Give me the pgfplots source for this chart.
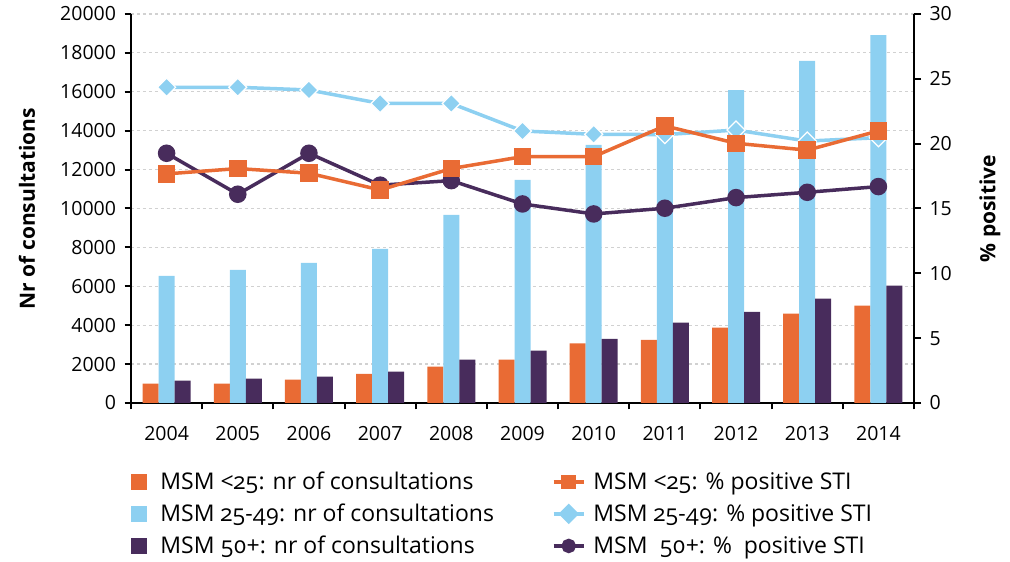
\documentclass[border=0pt]{standalone}
\usepackage{fontspec}
\setmainfont{Open Sans}
\newfontfamily\legfont[Numbers=OldStyle]{Open Sans}
\usepackage{pgfplots}
\pgfplotsset{compat=1.18}
\definecolor{cor}{HTML}{E96B34}
\definecolor{cbl}{HTML}{8DD0F1}
\definecolor{cpu}{HTML}{482C5C}
\pgfplotsset{
  lineleg/.style={legend image code/.code={\draw[mark repeat=2,mark phase=2,##1] plot coordinates {(0pt,0pt) (15pt,0pt) (30pt,0pt)};}},
  barleg/.style={legend image code/.code={\fill[#1] (0pt,-7.5pt) rectangle (15pt,7.5pt); \path[draw=none,fill=none] (0pt,-0.1pt) rectangle (21pt,0.1pt);}},
}
\begin{document}
\begin{tikzpicture}
\begin{axis}[name=ax1, scale only axis, width=783pt, height=389pt,
  xmin=-0.5, xmax=10.5, ymin=0, ymax=20000,
  axis x line*=bottom, axis y line*=left,
  ybar=0pt, bar width=16pt,
  xtick={-0.5,0.5,...,10.5}, xticklabels={},
  extra x ticks={0,1,2,3,4,5,6,7,8,9,10},
  extra x tick labels={2004,2005,2006,2007,2008,2009,2010,2011,2012,2013,2014},
  extra x tick style={major tick length=0pt, xticklabel style={yshift=-20pt}},
  ytick={0,2000,...,20000},
  ymajorgrids, grid style={dash pattern=on 3pt off 3pt, black!18, line width=1.2pt},
  tick align=outside, major tick length=6.5pt,
  axis line style={line width=2pt}, tick style={line width=2pt, black},
  scaled y ticks=false,
  /pgf/number format/assume math mode=true,
  yticklabel style={/pgf/number format/1000 sep={}, font=\fontsize{19.5}{22}\selectfont, xshift=-5pt},
  xticklabel style={font=\fontsize{19.5}{22}\selectfont},
  ylabel={Nr of consultations},
  ylabel style={at={(axis description cs:-0.1328,0.5)}, anchor=center, font=\bfseries\fontsize{21}{26}\selectfont},
]
\addplot[fill=cor, draw=none] coordinates {(0,1000)(1,990)(2,1200)(3,1500)(4,1870)(5,2230)(6,3060)(7,3250)(8,3870)(9,4590)(10,5000)};
\addplot[fill=cbl, draw=none] coordinates {(0,6540)(1,6850)(2,7210)(3,7930)(4,9670)(5,11470)(6,13270)(7,14450)(8,16090)(9,17590)(10,18920)};
\addplot[fill=cpu, draw=none] coordinates {(0,1150)(1,1250)(2,1350)(3,1610)(4,2230)(5,2690)(6,3300)(7,4130)(8,4690)(9,5360)(10,6030)};
\end{axis}
\begin{axis}[scale only axis, width=783pt, height=389pt,
  xmin=-0.5, xmax=10.5, ymin=0, ymax=30,
  axis x line=none, axis y line*=right,
  ytick={0,5,...,30},
  tick align=outside, major tick length=7pt,
  axis line style={line width=2pt}, tick style={line width=2pt, black},
  /pgf/number format/assume math mode=true,
  yticklabel style={font=\fontsize{19.5}{22}\selectfont, xshift=5pt},
  ylabel={\% positive},
  ylabel style={at={(axis description cs:1.0971,0.5)}, anchor=center, font=\bfseries\fontsize{21}{26}\selectfont},
  legend columns=2, legend cell align=left,
  legend style={at={(axis description cs:0,0)}, anchor=north west, xshift=0pt, yshift=-67pt,
    draw=none, fill=none, inner sep=0pt, row sep=9pt,
    /tikz/every odd column/.append style={column sep=6pt},
    /tikz/every even column/.append style={column sep=56pt},
    font=\legfont\fontsize{23}{26}\selectfont},
]
\addlegendimage{barleg=cor}
\addlegendentry{MSM <25: nr of consultations}
\addlegendimage{cor, line width=3.5pt, mark=square*, mark size=5.5pt, lineleg}
\addlegendentry{MSM <25: \% positive STI}
\addlegendimage{barleg=cbl}
\addlegendentry{MSM 25-49: nr of consultations}
\addlegendimage{cbl, line width=3.5pt, mark=square*, mark size=5.5pt, mark options={rotate=45}, lineleg}
\addlegendentry{MSM 25-49: \% positive STI}
\addlegendimage{barleg=cpu}
\addlegendentry{MSM 50+: nr of consultations}
\addlegendimage{cpu, line width=3.5pt, mark=*, mark size=5.5pt, lineleg}
\addlegendentry{MSM \ 50+: \% \ positive STI}
\addplot[forget plot, cpu, line width=3.5pt, mark=*, mark size=7pt] coordinates {(0,19.26)(1,16.1)(2,19.26)(3,16.8)(4,17.15)(5,15.35)(6,14.58)(7,15.02)(8,15.84)(9,16.25)(10,16.69)};
\addplot[forget plot, cbl, line width=3.5pt, mark=square*, mark size=6.4pt, mark options={rotate=45, fill=cbl, draw=white, line width=1.2pt}] coordinates {(0,24.35)(1,24.35)(2,24.14)(3,23.1)(4,23.1)(5,20.98)(6,20.72)(7,20.7)(8,21.05)(9,20.2)(10,20.46)};
\addplot[forget plot, cor, line width=3.5pt, mark=square*, mark size=7pt] coordinates {(0,17.67)(1,18.08)(2,17.72)(3,16.43)(4,18.08)(5,19.0)(6,19.0)(7,21.37)(8,20.03)(9,19.5)(10,20.98)};
\end{axis}
\pgfresetboundingbox
\path[use as bounding box] ([xshift=-131pt,yshift=-159pt]ax1.south west) rectangle ([xshift=96pt,yshift=14pt]ax1.north east);
\end{tikzpicture}
\end{document}
